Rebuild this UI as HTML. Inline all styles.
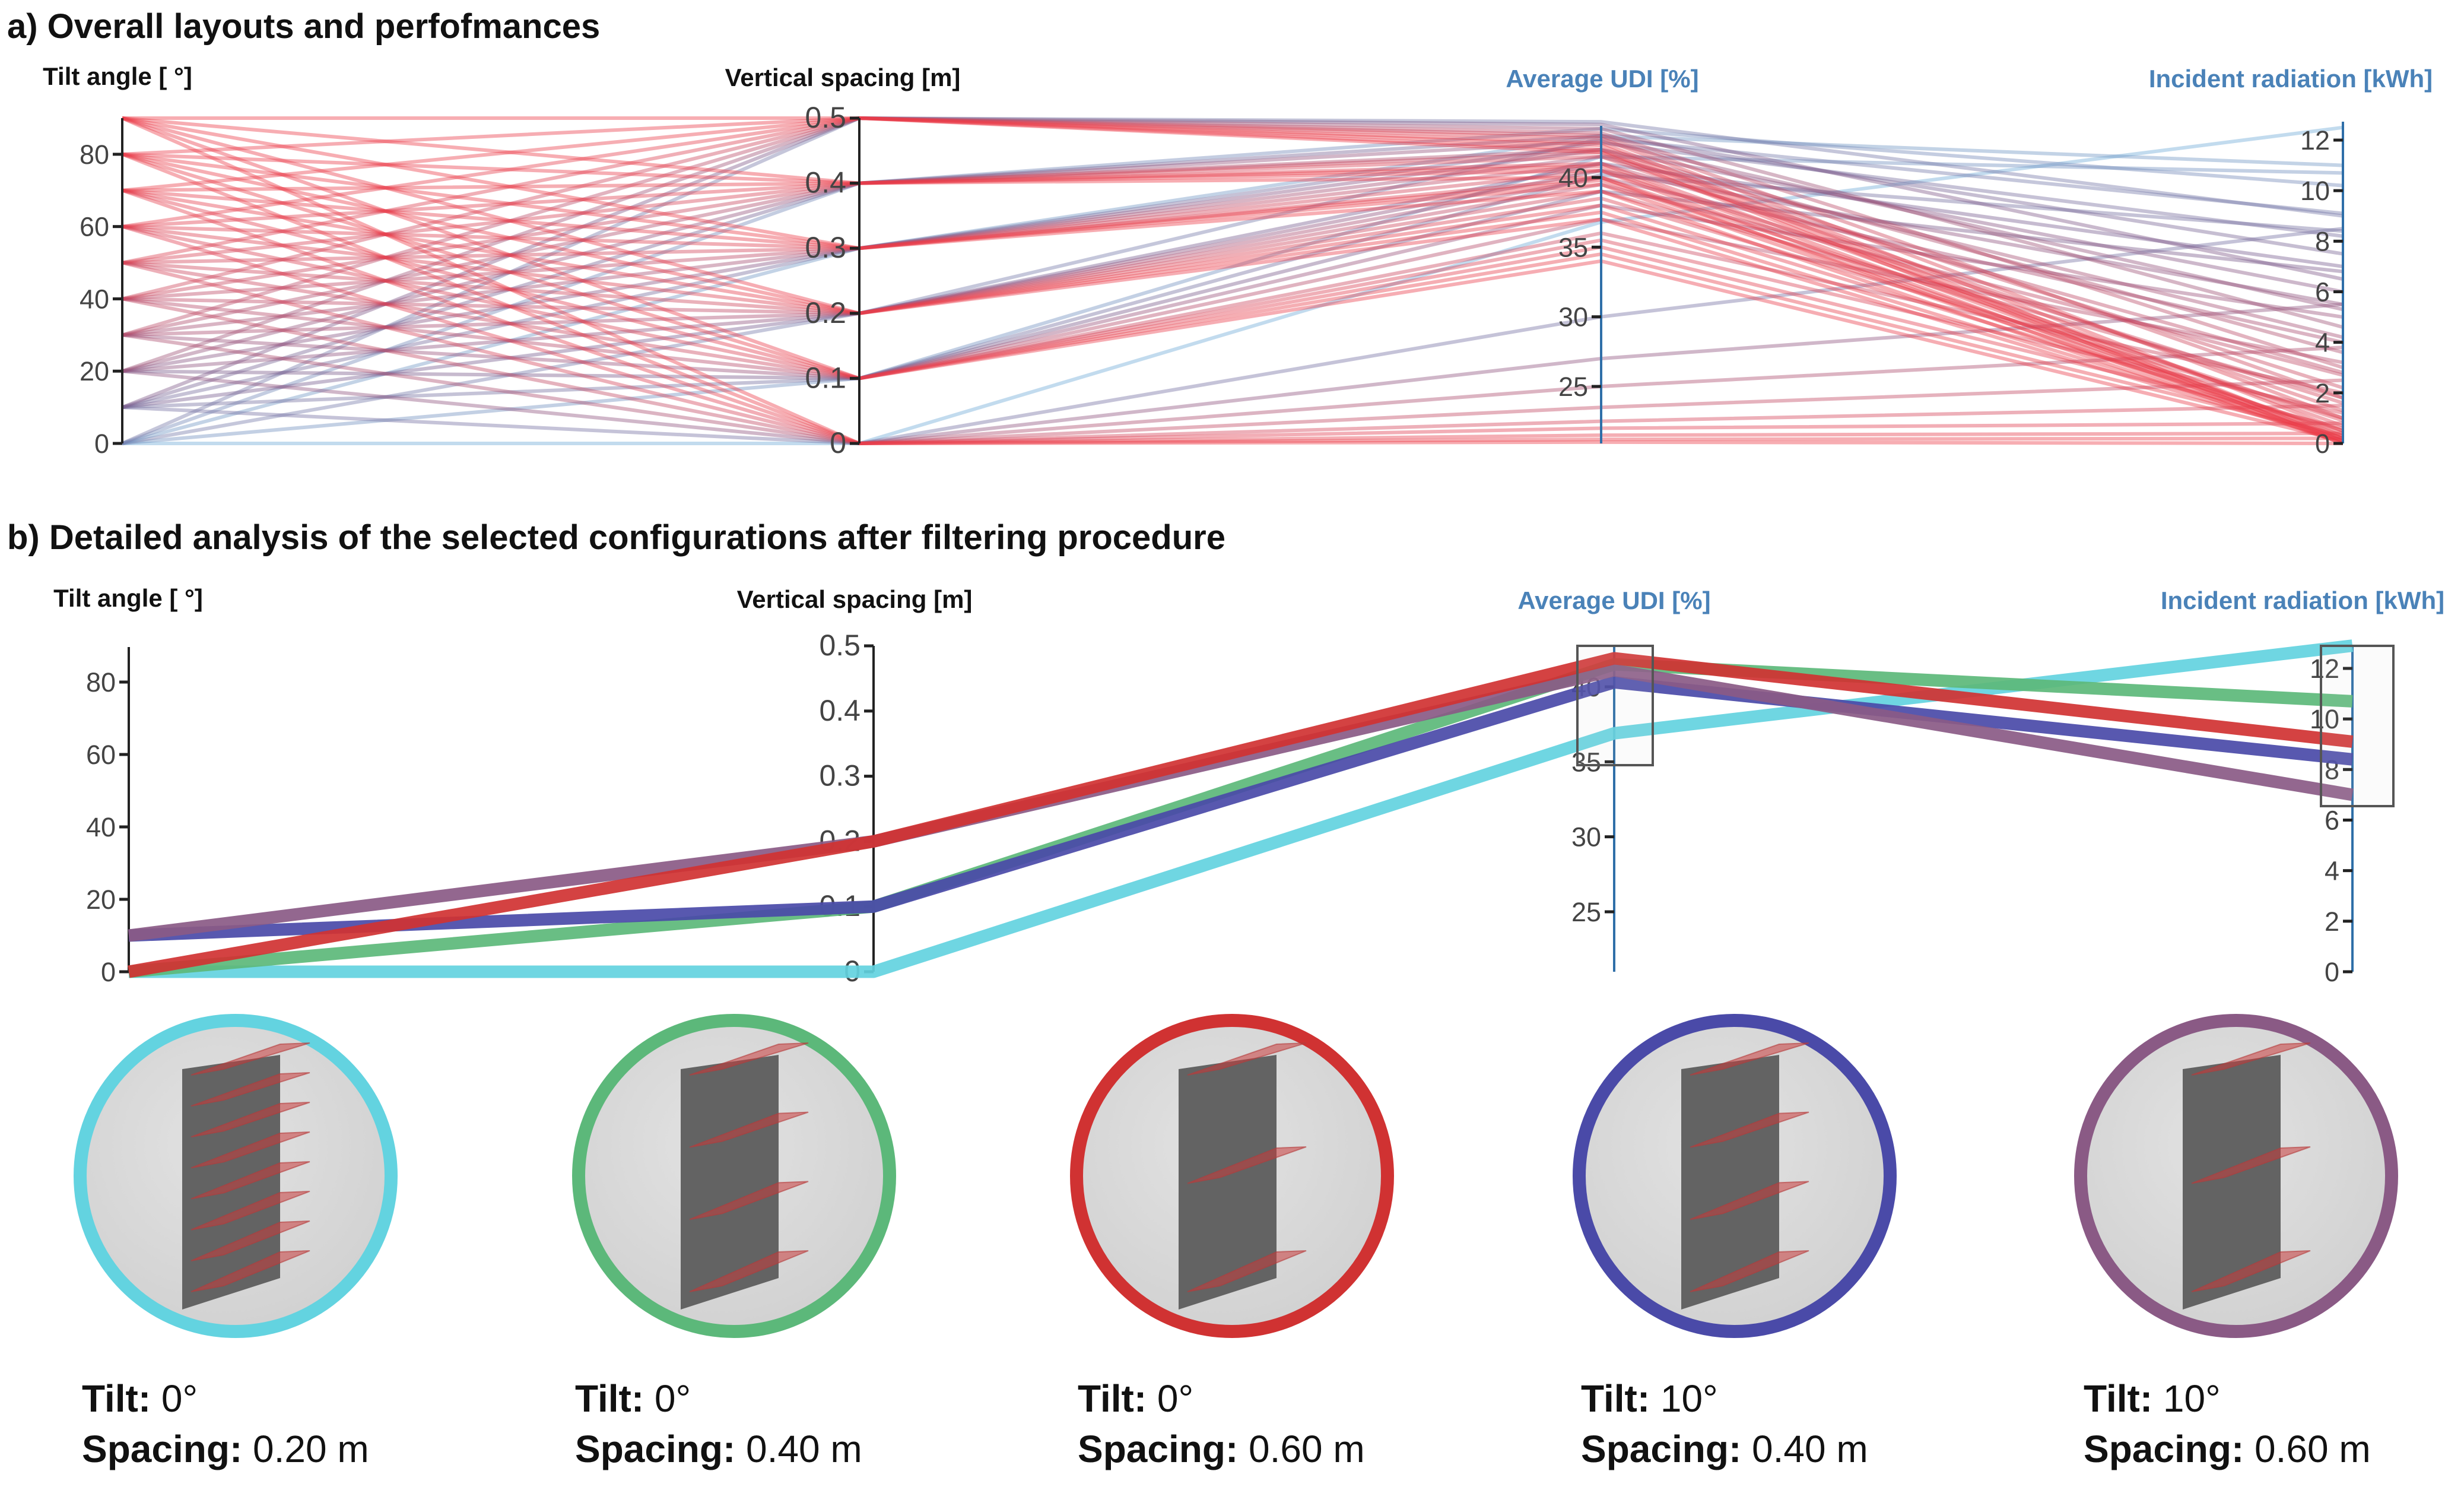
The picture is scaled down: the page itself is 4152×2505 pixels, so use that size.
<!DOCTYPE html>
<html><head><meta charset="utf-8"><style>
html,body{margin:0;padding:0;background:#fff}
svg{display:block;font-family:"Liberation Sans",sans-serif}
</style></head><body>
<svg id="fig" width="4152" height="2505" viewBox="0 0 4152 2505" xmlns="http://www.w3.org/2000/svg">
<defs>
<radialGradient id="bgGrad" cx="0.45" cy="0.4" r="0.7"><stop offset="0" stop-color="#e2e2e2"/><stop offset="1" stop-color="#cfcfcf"/></radialGradient>
</defs>
<text x="12" y="64" font-size="58" font-weight="bold" fill="#111">a) Overall layouts and perfofmances</text>
<text x="12" y="925" font-size="58" font-weight="bold" fill="#111">b) Detailed analysis of the selected configurations after filtering procedure</text>
<g id="pa"></g>
<g id="pb"></g>
<g id="cards"></g>
</svg>
<script>
// ---------- Panel a data ----------
const aTilt = [0,0,0,0,0,0,10,10,10,10,10,10,20,20,20,20,20,20,30,30,30,30,30,30,40,40,40,40,40,40,50,50,50,50,50,50,60,60,60,60,60,60,70,70,70,70,70,70,80,80,80,80,80,80,90,90,90,90,90,90];
const aSpacing = [0,0.1,0.2,0.3,0.4,0.5,0,0.1,0.2,0.3,0.4,0.5,0,0.1,0.2,0.3,0.4,0.5,0,0.1,0.2,0.3,0.4,0.5,0,0.1,0.2,0.3,0.4,0.5,0,0.1,0.2,0.3,0.4,0.5,0,0.1,0.2,0.3,0.4,0.5,0,0.1,0.2,0.3,0.4,0.5,0,0.1,0.2,0.3,0.4,0.5,0,0.1,0.2,0.3,0.4,0.5];
const aUDI = [36.8,41.5,42.8,43,43.5,44, 30,40.2,41,42.5,43,43.8, 27,39,40.5,42,42.6,43.5, 25,38,40,41.5,42,43.2, 23.5,37,39.5,41,41.8,43, 22.5,36,39,40.5,41.5,42.8, 22,35.5,38.5,40,41,42.5, 21.5,35,38,39.8,40.8,42.3, 21.2,34.5,37.5,39.5,40.5,42, 21,34,37,39,40,41.8];
const aRad = [12.5,10.7,9.1,11,10.2,9, 8.5,8.4,7,8.2,7.5,6.5, 5.5,6.8,5.5,6,5.3,4.6, 3.8,5,4,4.2,3.6,3, 2.5,3.2,2.7,2.8,2.2,1.8, 1.5,2,1.8,1.6,1.3,1, 0.8,1.2,1,0.9,0.7,0.5, 0.4,0.6,0.5,0.4,0.3,0.2, 0.2,0.3,0.2,0.2,0.1,0.1, 0,0.1,0.1,0,0,0];
const tiltTicks = [0,20,40,60,80];
const spacingTicksA = ["0","0.1","0.2","0.3","0.4","0.5"];
const udiTicks = [25,30,35,40];
const radTicksA = [0,2,4,6,8,10,12];

// ---------- Panel b data ----------
const bNames = ["cyan","green","red","blue","purple"];
const bColors = ["#63d3e0","#5cb87a","#d03232","#4a4aa8","#8a5a85"];
const bTilt = [0,0,0,10,10];
const bSpacing = [0,0.1,0.2,0.1,0.2];
const bUDI = [36.9,41.5,41.9,40.3,41.1];
const bRad = [12.9,10.7,9.1,8.4,7.0];
const radTicksB = [0,2,4,6,8,10,12];
const cardTilt = ["0°","0°","0°","10°","10°"];
const cardSpacing = ["0.20 m","0.40 m","0.60 m","0.40 m","0.60 m"];
const cardSlats = [8,4,3,4,3];

const NS="http://www.w3.org/2000/svg";
function mk(parent,tag,attrs){const e=document.createElementNS(NS,tag);for(const k in attrs)e.setAttribute(k,attrs[k]);parent.appendChild(e);return e;}
function lin(d0,d1,r0,r1){return v=>r0+(v-d0)*(r1-r0)/(d1-d0);}

function axis(g,x,y0,y1,scale,ticks,labels,color,name,fs){
  const l=mk(g,'line',{x1:x,y1:y0,x2:x,y2:y1,stroke:color,'stroke-width':4});
  
  
  ticks.forEach((t,i)=>{
    const y=scale(t);
    const tk=mk(g,'line',{x1:x-16,y1:y,x2:x,y2:y,stroke:'#222','stroke-width':5});
    
    
    const tx=mk(g,'text',{x:x-22,y:y+16,'font-size':fs,'text-anchor':'end',fill:'#444'});
    tx.textContent=labels[i];
    
    
  });
}
function title(g,x,y,txt,color,name){
  const t=mk(g,'text',{x:x,y:y,'font-size':42,'font-weight':'bold','text-anchor':'middle',fill:color});
  t.textContent=txt;
  
  
}
function radColor(r){
  const f=Math.max(0,Math.min(1,r/12.5));
  const c0=[236,60,72],c1=[120,90,140],c2=[110,170,215];
  let a,b,t;
  if(f<0.55){a=c0;b=c1;t=f/0.55;}else{a=c1;b=c2;t=(f-0.55)/0.45;}
  return `rgb(${a.map((v,i)=>Math.round(v+(b[i]-v)*t)).join(',')})`;
}

// ---------- Panel a ----------
(function(){
  const g=document.getElementById('pa');
  const X=[206,1448,2698,3948], top=199, bot=747;
  const sT=lin(0,90,bot,top), sS=lin(0,0.5,bot,top), sU=lin(25,40,651,299), sR=lin(0,12,bot,236);
  const lg=mk(g,'g',{});
  
  
  for(let i=0;i<aTilt.length;i++){
    const pts=[[X[0],sT(aTilt[i])],[X[1],sS(aSpacing[i])],[X[2],sU(aUDI[i])],[X[3],sR(aRad[i])]];
    const p=mk(lg,'polyline',{points:pts.map(p=>p.join(',')).join(' '),fill:'none',stroke:radColor(aRad[i]),'stroke-width':6,'stroke-opacity':0.42});
    
    
  }
  axis(g,X[0],top,bot,sT,tiltTicks,tiltTicks.map(String),'#222','tilt-axis-a',45);
  axis(g,X[1],top,bot,sS,[0,0.1,0.2,0.3,0.4,0.5],spacingTicksA,'#222','spacing-axis-a',50);
  axis(g,X[2],212,bot,sU,udiTicks,udiTicks.map(String),'#2f6fa8','udi-axis-a',45);
  axis(g,X[3],205,bot,sR,radTicksA,radTicksA.map(String),'#2f6fa8','rad-axis-a',45);
  title(g,198,143,'Tilt angle [ °]','#111','tilt-axis-title-a');
  title(g,1420,145,'Vertical spacing [m]','#111','spacing-axis-title-a');
  title(g,2700,147,'Average UDI [%]','#4a82b8','udi-axis-title-a');
  title(g,3860,147,'Incident radiation [kWh]','#4a82b8','rad-axis-title-a');
})();

// ---------- Panel b ----------
(function(){
  const g=document.getElementById('pb');
  const X=[217,1472,2720,3964], bot=1637;
  const sT=lin(0,80,bot,1149), sS=lin(0,0.5,bot,1088), sU=lin(25,40,1536,1157), sR=lin(0,12,bot,1126);
  title(g,216,1022,'Tilt angle [ °]','#111','tilt-axis-title-b');
  title(g,1440,1024,'Vertical spacing [m]','#111','spacing-axis-title-b');
  title(g,2720,1026,'Average UDI [%]','#4a82b8','udi-axis-title-b');
  title(g,3880,1026,'Incident radiation [kWh]','#4a82b8','rad-axis-title-b');
  axis(g,X[0],1090,bot,sT,[0,20,40,60,80],["0","20","40","60","80"],'#222','tilt-axis-b',45);
  axis(g,X[1],1088,bot,sS,[0,0.1,0.2,0.3,0.4,0.5],spacingTicksA,'#222','spacing-axis-b',50);
  axis(g,X[2],1088,bot,sU,udiTicks,udiTicks.map(String),'#2f6fa8','udi-axis-b',45);
  axis(g,X[3],1088,bot,sR,radTicksB,radTicksB.map(String),'#2f6fa8','rad-axis-b',45);
  const order=[0,1,3,4,2];
  order.forEach(i=>{
    const pts=[[X[0],sT(bTilt[i])],[X[1],sS(bSpacing[i])],[X[2],sU(bUDI[i])],[X[3],sR(bRad[i])]];
    const p=mk(g,'polyline',{points:pts.map(p=>p.join(',')).join(' '),fill:'none',stroke:bColors[i],'stroke-width':21,'stroke-linejoin':'round','stroke-opacity':0.92});
    
    
  });
  const b1=mk(g,'rect',{x:2658,y:1088,width:127,height:201,fill:'rgba(200,200,200,0.08)',stroke:'#555','stroke-width':4});
  
  
  const b2=mk(g,'rect',{x:3911,y:1088,width:122,height:270,fill:'rgba(200,200,200,0.08)',stroke:'#555','stroke-width':4});
  
  
})();

// ---------- Cards ----------
(function(){
  const g=document.getElementById('cards');
  const CX=[397,1237,2076,2923,3768], CY=1981, R=262;
  const TX=[138,969,1816,2664,3511];
  for(let i=0;i<5;i++){
    const cg=mk(g,'g',{});
    
    
    const c=mk(cg,'circle',{cx:CX[i],cy:CY,r:R,fill:'url(#bgGrad)',stroke:bColors[i],'stroke-width':22});
    
    
    const x0=CX[i];
    const panel=mk(cg,'polygon',{points:`${x0-90},${CY-180} ${x0+75},${CY-204} ${x0+75},${CY+172} ${x0-90},${CY+225}`,fill:'#636363'});
    
    
    const n=cardSlats[i];
    for(let k=0;k<n;k++){
      const t=n===1?0:k/(n-1);
      const yl=CY-170+t*365, yr=CY-200+t*350;
      const s=mk(cg,'polygon',{points:`${x0-75},${yl} ${x0+75},${yr-22} ${x0+125},${yr-24} ${x0-20},${yl-10}`,fill:'rgba(200,60,60,0.55)',stroke:'rgba(180,60,60,0.6)','stroke-width':2});
      
      
    }
    const t1=mk(g,'text',{x:TX[i],y:2378,'font-size':64,fill:'#111'});
    t1.innerHTML='<tspan font-weight="bold">Tilt:</tspan> '+cardTilt[i];
    
    
    const t2=mk(g,'text',{x:TX[i],y:2463,'font-size':64,fill:'#111'});
    t2.innerHTML='<tspan font-weight="bold">Spacing:</tspan> '+cardSpacing[i];
    
    
  }
})();
</script>
</body></html>
